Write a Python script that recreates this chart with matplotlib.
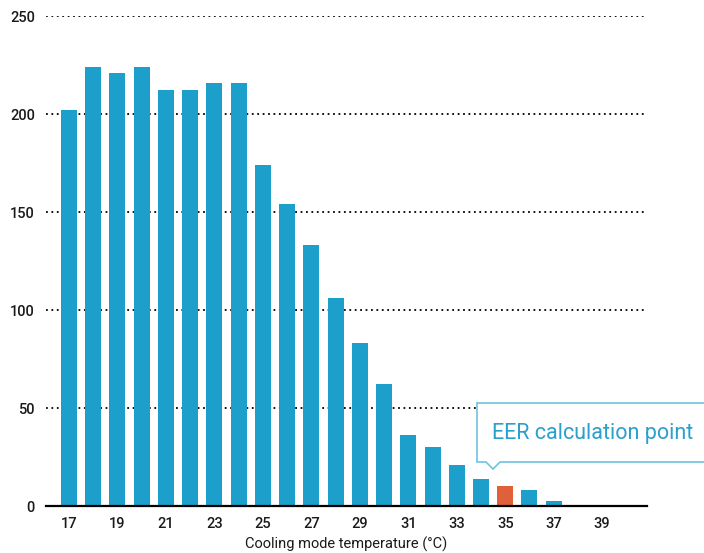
import matplotlib.pyplot as plt
from matplotlib.patches import Polygon

# Cooling mode bin hours per outdoor temperature
temps = list(range(17, 41))
hours = [202, 224, 221, 224, 212, 212, 216, 216, 174, 154, 133, 106,
         83, 62, 36, 30, 21, 14, 10, 8, 2.6, 0, 0, 0]
eer_temp = 35
tick_temps = list(range(17, 40, 2))
y_ticks = [0, 50, 100, 150, 200, 250]

blue = '#1ca0cb'
orange = '#e0603a'

plt.rcParams['font.family'] = ['Roboto', 'DejaVu Sans']
plt.rcParams['font.weight'] = 'medium'

fig = plt.figure(figsize=(7.04, 5.53), dpi=100)
ax = fig.add_axes([46 / 704, 1 - 506 / 553, (647 - 46) / 704, 490 / 553])

colors = [orange if t == eer_temp else blue for t in temps]
ax.bar(temps, hours, width=0.66, color=colors, zorder=2)

ax.set_xlim(16.05, 40.85)
ax.set_ylim(0, 250)
ax.set_xticks(tick_temps)
ax.set_yticks(y_ticks)
ax.tick_params(length=0, labelsize=10.5, colors='#1a1a1a', pad=8)

ax.yaxis.grid(True, linestyle=(0, (1, 2)), color='black', linewidth=1.3)
ax.set_axisbelow(True)
for side in ['top', 'right', 'left']:
    ax.spines[side].set_visible(False)
ax.spines['bottom'].set_linewidth(1.6)
ax.spines['bottom'].set_zorder(3)

ax.set_xlabel('Cooling mode temperature (°C)', fontsize=10.5, color='#1a1a1a', labelpad=4)

# Callout box with a small pointer under the label
W, H = 704, 553
x0, x1 = 477, 712
y0, y1 = 403, 462
px, tip = 493, 469
pts = [(x0, y0), (x1, y0), (x1, y1), (px + 7, y1), (px, tip), (px - 7, y1), (x0, y1)]
pts = [(x / W, 1 - y / H) for x, y in pts]
fig.patches.append(Polygon(pts, closed=True, transform=fig.transFigure,
                           facecolor='white', edgecolor='#6cc3e0', linewidth=1.2,
                           zorder=5))
fig.text(492 / W, 1 - 433 / H, 'EER calculation point', fontsize=15.5, color='#2aa0cc',
         fontweight='normal', va='center', ha='left', zorder=6)

fig.savefig('out.png', dpi=100)
